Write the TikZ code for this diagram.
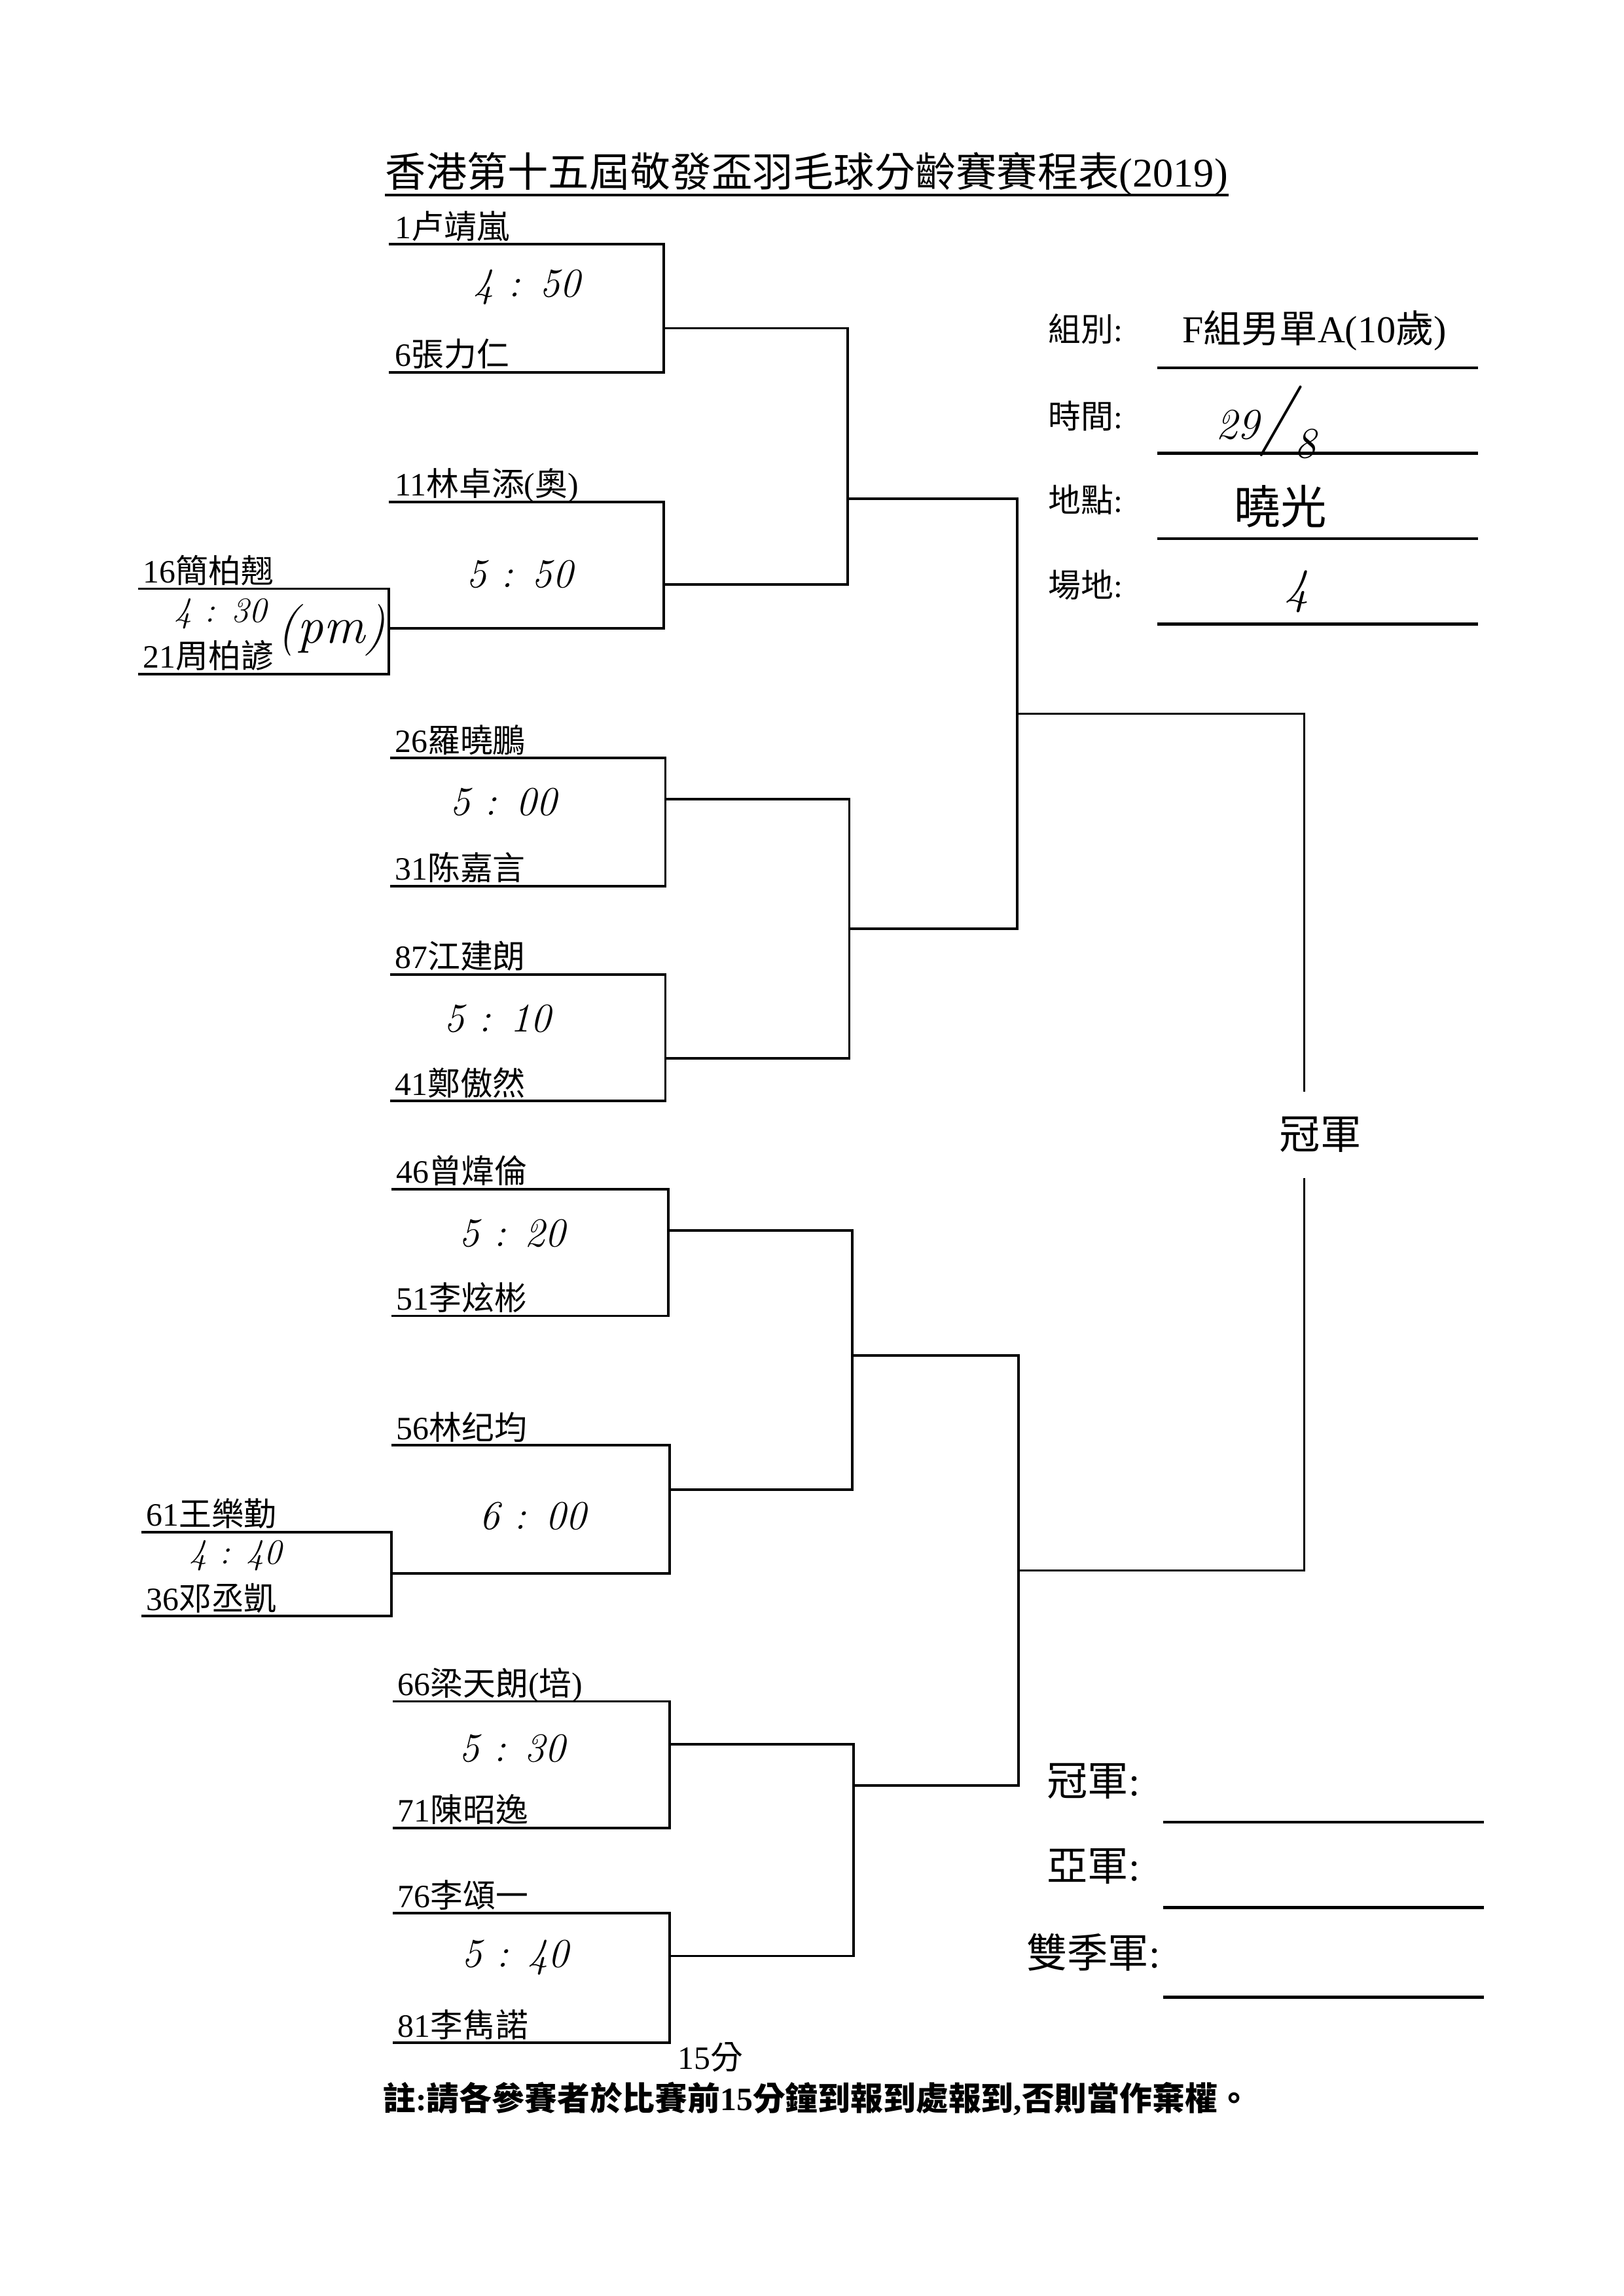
\documentclass[tikz,border=0pt]{standalone}
\usepackage{fontspec}
\newfontfamily\cjk{Noto Sans CJK TC}
\newfontfamily\lat{Liberation Serif}
\usetikzlibrary{calc}
\def\pl#1#2{{\lat #1}#2}
% first round box: name, x left, x right, y top, y bottom, y out
\def\bmatch#1#2#3#4#5#6{
  \coordinate (#1tl) at (#2,#4); \coordinate (#1tr) at (#3,#4);
  \coordinate (#1bl) at (#2,#5); \coordinate (#1br) at (#3,#5);
  \coordinate (#1) at (#3,#6);
  \draw[bracket] (#1tl) -- (#1tr) -- (#1br) -- (#1bl);
}
% later round: name, x, upper, lower, y out
\def\bjoin#1#2#3#4#5{
  \coordinate (#1) at (#2,#5);
  \draw[bracket] (#3) -- (#3 -| #1) -- (#4 -| #1) -- (#4);
}
\tikzset{
  bracket/.style={line width=0.9pt},
  rule/.style={line width=1.1pt},
  pname/.style={anchor=base west, inner sep=0pt, font=\cjk\fontsize{12}{14}\selectfont},
  hand/.style={inner sep=0pt, font=\itshape\fontsize{15}{17}\selectfont},
  infolbl/.style={anchor=base west, inner sep=0pt, font=\cjk\fontsize{12}{14}\selectfont},
  prize/.style={anchor=base west, inner sep=0pt, font=\cjk\fontsize{15}{17}\selectfont},
}

\begin{document}
\begin{tikzpicture}[x=0.19037mm, y=-0.19037mm]
			%%%%% START %%%%%
			\useasboundingbox[fill=white] (0,0) rectangle (1103,1560);
			
			\node[inner sep=0pt, anchor=base, font=\cjk\fontsize{15}{17}\selectfont] (title) at (548,127) {香港第十五屆敬發盃羽毛球分齡賽賽程表{\lat(2019)}};
			\draw[rule] ([yshift=-3pt]title.base west) -- ([yshift=-3pt]title.base east);
			
			%% first round
			\bmatch{m1}{264}{451}{166}{253}{223}
			\bmatch{m2}{264}{451}{341}{427}{397}
			\bmatch{p1}{94}{264}{400}{458}{427}
			\bmatch{m3}{265}{452}{515}{602}{543}
			\bmatch{m4}{265}{452}{662}{748}{719}
			\bmatch{m5}{266}{454}{808}{894}{836}
			\bmatch{m6}{266}{455}{982}{1069}{1012}
			\bmatch{p2}{96}{266}{1041}{1098}{1069}
			\bmatch{m7}{267}{455}{1156}{1242}{1185}
			\bmatch{m8}{267}{455}{1300}{1388}{1329}
			
			%% later rounds
			\bjoin{r2a}{576}{m1}{m2}{339}
			\bjoin{r2b}{577}{m3}{m4}{631}
			\bjoin{r2c}{579}{m5}{m6}{921}
			\bjoin{r2d}{580}{m7}{m8}{1213}
			\bjoin{r3a}{691}{r2a}{r2b}{485}
			\bjoin{r3b}{692}{r2c}{r2d}{1067}
			
			\coordinate (fin) at (886,776);
			\node[inner sep=0pt, minimum height=11mm, font=\cjk\fontsize{15}{17}\selectfont] (champ) at (897,771) {冠軍};
			\draw[bracket] (r3a) -- (r3a -| fin) -- (champ.north -| fin);
			\draw[bracket] (champ.south -| fin) -- (r3b -| fin) -- (r3b);
			
			%% players
			\node[pname] (n1) at (268,162) {\pl{1}{卢靖嵐}};
			\node[pname] (n6) at (268,249) {\pl{6}{張力仁}};
			\node[pname] (n11) at (268,337) {\pl{11}{林卓添{\lat(}奧{\lat)}}};
			\node[pname] (n16) at (97,396) {\pl{16}{簡柏翹}};
			\node[pname] (n21) at (97,454) {\pl{21}{周柏諺}};
			\node[pname] (n26) at (268,511) {\pl{26}{羅曉鵬}};
			\node[pname] (n31) at (268,598) {\pl{31}{陈嘉言}};
			\node[pname] (n87) at (268,658) {\pl{87}{江建朗}};
			\node[pname] (n41) at (268,744) {\pl{41}{鄭傲然}};
			\node[pname] (n46) at (269,804) {\pl{46}{曾煒倫}};
			\node[pname] (n51) at (269,890) {\pl{51}{李炫彬}};
			\node[pname] (n56) at (269,978) {\pl{56}{林纪均}};
			\node[pname] (n61) at (99,1037) {\pl{61}{王樂勤}};
			\node[pname] (n36) at (99,1094) {\pl{36}{邓丞凱}};
			\node[pname] (n66) at (270,1152) {\pl{66}{梁天朗{\lat(}培{\lat)}}};
			\node[pname] (n71) at (270,1238) {\pl{71}{陳昭逸}};
			\node[pname] (n76) at (270,1296) {\pl{76}{李頌一}};
			\node[pname] (n81) at (270,1384) {\pl{81}{李雋諾}};
			
			%% handwritten times
			\node[hand] (t1) at (358,195) {4 : 50};
			\node[hand] (t2) at (353,390) {5 : 50};
			\node[hand, font=\itshape\fontsize{13}{15}\selectfont] (t3) at (150,417) {4 : 30};
			\node[hand, font=\itshape\fontsize{19}{21}\selectfont] (pm) at (225,428) {(pm)};
			\node[hand] (t4) at (342,545) {5 : 00};
			\node[hand] (t5) at (338,692) {5 : 10};
			\node[hand] (t6) at (348,838) {5 : 20};
			\node[hand] (t7) at (362,1030) {6 : 00};
			\node[hand, font=\itshape\fontsize{13}{15}\selectfont] (t8) at (160,1057) {4 : 40};
			\node[hand] (t9) at (348,1188) {5 : 30};
			\node[hand] (t10) at (350,1330) {5 : 40};
			
			%% info table
			\node[infolbl] (grp) at (712,232) {組別{\lat :}};
			\node[inner sep=0pt, anchor=base, font=\cjk\fontsize{14}{16}\selectfont] (grpv) at (893,233) {{\lat F}組男單{\lat A(10}歲{\lat )}};
			\draw[rule] (786,250) -- (1004,250);
			\node[infolbl] (time) at (712,291) {時間{\lat :}};
			\node[hand, font=\itshape\fontsize{16}{18}\selectfont] (timev) at (860,287) {29{\fontsize{26}{28}\selectfont/}\raisebox{-1ex}{8}};
			\draw[rule] (786,308) -- (1004,308);
			\node[infolbl] (place) at (712,348) {地點{\lat :}};
			\node[inner sep=0pt, font=\cjk\fontsize{17}{19}\selectfont] (placev) at (870,344) {曉光};
			\draw[rule] (786,366) -- (1004,366);
			\node[infolbl] (court) at (712,406) {場地{\lat :}};
			\node[hand, font=\itshape\fontsize{18}{20}\selectfont] (courtv) at (881,402) {4};
			\draw[rule] (786,424) -- (1004,424);
			
			%% prizes
			\node[prize] (first) at (711,1220) {冠軍{\lat :}};
			\draw[rule] (790,1238) -- (1008,1238);
			\node[prize] (second) at (711,1278) {亞軍{\lat :}};
			\draw[rule] (790,1296) -- (1008,1296);
			\node[prize] (third) at (697,1337) {雙季軍{\lat :}};
			\draw[rule] (790,1357) -- (1008,1357);
			
			%% notes
			\node[pname] (mins) at (460,1406) {\pl{15}{分}};
			\node[pname, font=\cjk\bfseries\fontsize{12}{14}\selectfont] (note) at (260,1434) {註{\lat\bfseries :}請各參賽者於比賽前{\lat\bfseries 15}分鐘到報到處報到{\lat\bfseries ,}否則當作棄權。};
			%%%%% END %%%%%
\end{tikzpicture}
\end{document}
